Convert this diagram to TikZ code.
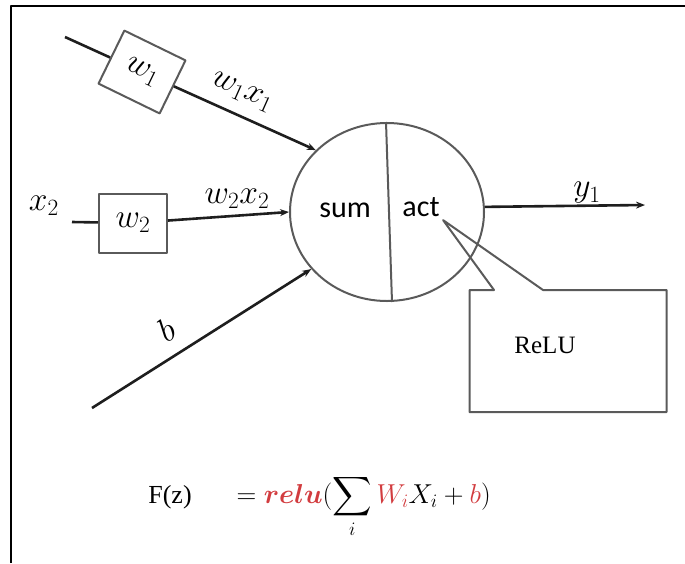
\documentclass[tikz,border=0pt]{standalone}
\usepackage{amsmath}
\usepackage{fontspec}
\setmainfont{Liberation Serif}
\newfontfamily\calib{Carlito}
\usetikzlibrary{arrows.meta, positioning, shapes.geometric, shapes.callouts}
\definecolor{nnline}{HTML}{1E1E1E}
\definecolor{nnedge}{HTML}{5A5A5A}
\definecolor{nnred}{HTML}{D23C3F}
\newcommand{\nnmath}[1]{\scalebox{1.35}{$#1$}}

\begin{document}
\begin{tikzpicture}[x=1pt, y=-1pt, line join=round,
    wire/.style={draw=nnline, line width=2.6pt},
    feed/.style={wire, -{Stealth[length=9pt, width=7pt]}},
    wbox/.style={draw=nnedge, line width=2pt, minimum width=68pt, minimum height=59pt, inner sep=0pt, font=\fontsize{24}{28}\selectfont},
    lbl/.style={font=\fontsize{24}{28}\selectfont, inner sep=0pt}]
      \useasboundingbox (0,0) rectangle (685,563);
      % frame
      \draw[line width=2.4pt] (11,563) -- (11,6) -- (685,6);
      % neuron
      \node[ellipse, draw=nnedge, line width=2pt, minimum width=194pt, minimum height=178pt, inner sep=0pt] (neur) at (387,212) {};
      \draw[nnedge, line width=2pt] ([xshift=-1pt]neur.north) -- ([xshift=5pt]neur.south);
      \node[font=\calib\fontsize{30}{34}\selectfont] (sum) at (345,210) {sum};
      \node[font=\calib\fontsize{30}{34}\selectfont] (act) at (421,207) {act};
      % input 1
      \coordinate (x1in) at (65,37);
      \node[wbox, rotate=-26] (w1) at (142,72) {\nnmath{w_1}};
      \draw[wire] (x1in) -- (w1);
      \draw[feed] (w1) -- (neur.139);
      \node[lbl, rotate=-24] (w1x1) at (242,92) {\nnmath{w_1x_1}};
      % input 2
      \node[lbl] (x2) at (44,206) {\nnmath{x_2}};
      \coordinate (x2in) at (72,222);
      \node[wbox] (w2) at (133,223) {\raisebox{-6pt}{\nnmath{w_2}}};
      \draw[wire] (x2in) -- (w2);
      \draw[feed] (w2) -- (neur.west);
      \node[lbl] (w2x2) at (237,199) {\nnmath{w_2x_2}};
      % bias
      \coordinate (bin) at (92,408);
      \draw[feed] (bin) -- (neur.217);
      \node[lbl, rotate=32] (b) at (166,330) {\nnmath{b}};
      % output
      \coordinate (yout) at (645,205);
      \draw[feed] (neur.3) -- (yout);
      \node[lbl] (y1) at (587,193) {\nnmath{y_1}};
      % callout
      \node[rectangle callout, draw=nnedge, line width=2pt, minimum width=197pt, minimum height=122pt, callout absolute pointer={(act.south east)}, callout pointer width=49pt] (relubox) at (568,351) {};
      \node[font=\fontsize{25}{30}\selectfont] (relu) at (545,345) {ReLU};
      % formula
      \node[anchor=base, font=\fontsize{26}{30}\selectfont] (fz) at (170,503) {F(z)};
      \node[anchor=base west, font=\fontsize{24}{28}\selectfont] (rule) at (233,503) {\scalebox{1.1}{$\displaystyle = \textcolor{nnred}{\boldsymbol{relu}}(\sum_i \textcolor{nnred}{W_i} X_i + \textcolor{nnred}{b})$}};
\end{tikzpicture}
\end{document}
